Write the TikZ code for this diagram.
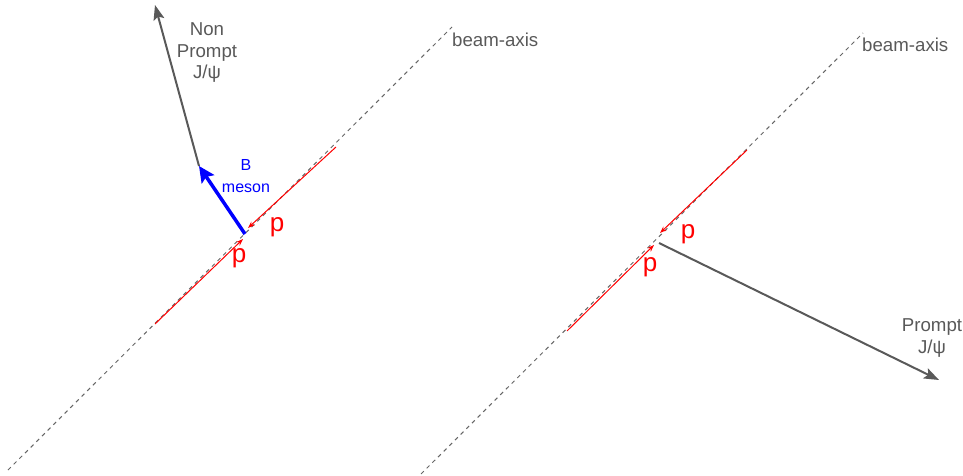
\documentclass[tikz,border=0pt]{standalone}
\usepackage{fontspec}
\setmainfont{Liberation Sans}
\usetikzlibrary{arrows.meta}
\definecolor{dgray}{HTML}{595959}
\definecolor{agray}{HTML}{666666}
\tikzset{
  beam/.style={draw=agray, line width=1pt, dash pattern=on 4pt off 4pt},
  proton/.style={draw=red, line width=1pt, -{Stealth[length=7pt,width=5pt]}},
  jpsi/.style={draw=dgray, line width=2pt, -{Stealth[length=15pt,width=11pt,inset=3pt]}},
  bmes/.style={draw=blue, line width=3.5pt, -{Stealth[length=16pt,width=15pt,inset=3pt]}},
  glabel/.style={text=dgray, inner sep=0pt, align=center, font=\fontsize{18.67pt}{21.5pt}\selectfont},
  blabel/.style={text=blue, inner sep=0pt, align=center, font=\fontsize{16pt}{22pt}\selectfont},
  plabel/.style={text=red, inner sep=0pt, anchor=base, font=\fontsize{26pt}{30pt}\selectfont},
}
\begin{document}
\begin{tikzpicture}[x=1pt,y=-1pt]
\useasboundingbox (0,0) rectangle (963,476);
% left event
\coordinate (lb0) at (8,470);
\coordinate (lb1) at (452,27);
\draw[beam] (lb0) -- (lb1);
\node[glabel, anchor=base west] (lba) at (452,47) {beam-axis};
\coordinate (lp1s) at (155,324);
\coordinate (lp1e) at (243,239);
\coordinate (lp2s) at (336,147);
\coordinate (lp2e) at (248,228);
\draw[proton] (lp1s) -- (lp1e);
\draw[proton] (lp2s) -- (lp2e);
\node[plabel] (lpa) at (277,231) {p};
\node[plabel] (lpb) at (239,262) {p};
\coordinate (bv) at (245,234);
\coordinate (dv) at (199,166);
\coordinate (np) at (155,5);
\draw[bmes] (bv) -- (dv);
\draw[jpsi] (dv) -- (np);
\node[blabel] (bm) at (246,176) {B\\meson};
\node[glabel] (npl) at (207,53) {Non\\Prompt\\J/ψ};
% right event
\coordinate (rb0) at (421,474);
\coordinate (rb1) at (863,33);
\draw[beam] (rb0) -- (rb1);
\node[glabel, anchor=base west] (rba) at (862,52) {beam-axis};
\coordinate (rp1s) at (567,331);
\coordinate (rp1e) at (654,245);
\coordinate (rp2s) at (747,150);
\coordinate (rp2e) at (660,233);
\draw[proton] (rp1s) -- (rp1e);
\draw[proton] (rp2s) -- (rp2e);
\node[plabel] (rpa) at (688,238) {p};
\node[plabel] (rpb) at (650,271) {p};
\coordinate (pv) at (659,243);
\coordinate (pj) at (939,380);
\draw[jpsi] (pv) -- (pj);
\node[glabel] (pl) at (932,338) {Prompt\\J/ψ};
\end{tikzpicture}
\end{document}
